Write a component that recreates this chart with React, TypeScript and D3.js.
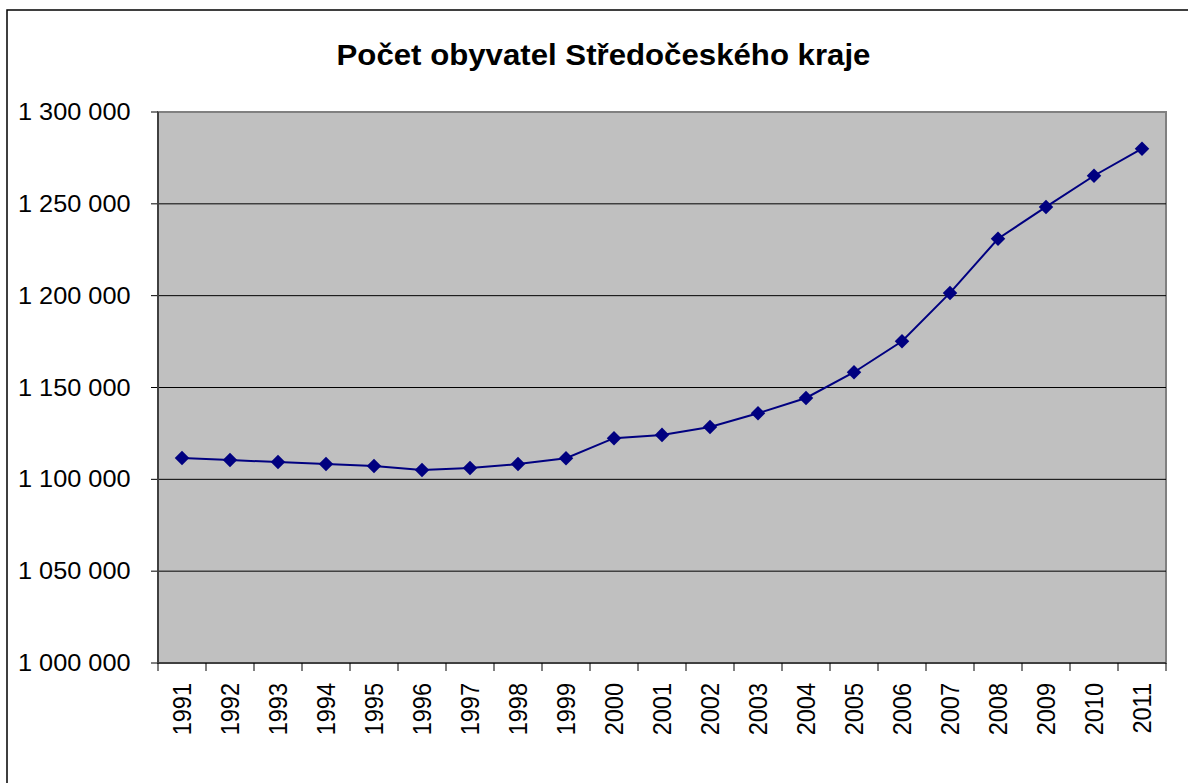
import React from "react";
import * as d3 from "d3";

const years = ["1991","1992","1993","1994","1995","1996","1997","1998","1999","2000","2001","2002","2003","2004","2005","2006","2007","2008","2009","2010","2011"];
const population = [1111600,1110500,1109400,1108300,1107300,1105100,1106200,1108300,1111500,1122400,1124200,1128500,1136000,1144300,1158300,1175200,1201500,1231000,1248300,1265300,1280000];
const yTicks = [1000000,1050000,1100000,1150000,1200000,1250000,1300000];
const title = "Počet obyvatel Středočeského kraje";

const W = 1188, H = 783;
const plot = { left: 158, right: 1166, top: 112, bottom: 663 };
const font = "'Liberation Sans', Arial, sans-serif";

export default function App() {
  const x = d3.scaleBand().domain(years).range([plot.left, plot.right]).padding(0);
  const y = d3.scaleLinear().domain([1000000, 1300000]).range([plot.bottom, plot.top]);
  const line = d3.line<number>().x((_, i) => x(years[i])! + x.bandwidth() / 2).y(d => y(d));
  const fmt = (v: number) => d3.format(",")(v).replace(/,/g, " ");
  const diamond = d3.symbol().type(d3.symbolDiamond2).size(135)()!;
  const boundaries = years.map((yr) => x(yr)!).concat([plot.right]);

  return (
    <svg width={W} height={H} style={{ position: "absolute", left: 0, top: 0 }} fontFamily={font}>
      <rect x={0} y={0} width={W} height={H} fill="#fff" />
      <rect x={7} y={10} width={W + 10} height={H + 10} fill="none" stroke="#000" strokeWidth={1.5} />
      <text transform={`translate(603.5,64.5) scale(1.04,1)`} textAnchor="middle" fontSize={30} fontWeight="bold" fill="#000">{title}</text>
      <rect x={plot.left} y={plot.top} width={plot.right - plot.left} height={plot.bottom - plot.top} fill="#C0C0C0" stroke="#808080" strokeWidth={2} />
      {yTicks.map(t => (
        <g key={t}>
          {t !== 1000000 && t !== 1300000 && (
            <line x1={plot.left} x2={plot.right} y1={y(t)} y2={y(t)} stroke="#000" strokeWidth={1} />
          )}
          <line x1={plot.left - 7} x2={plot.left} y1={y(t)} y2={y(t)} stroke="#000" strokeWidth={1} />
          <text transform={`translate(130.5,${y(t) + 8}) scale(1.1,1)`} textAnchor="end" fontSize={23} fill="#000">{fmt(t)}</text>
        </g>
      ))}
      <line x1={plot.left} x2={plot.left} y1={plot.top} y2={plot.bottom} stroke="#404040" strokeWidth={2} />
      <line x1={plot.left} x2={plot.right} y1={plot.bottom} y2={plot.bottom} stroke="#404040" strokeWidth={2} />
      {boundaries.map((bx, i) => (
        <line key={i} x1={bx} x2={bx} y1={plot.bottom} y2={plot.bottom + 8} stroke="#000" strokeWidth={1} />
      ))}
      {years.map(yr => {
        const cx = x(yr)! + x.bandwidth() / 2;
        return (
          <text key={yr} transform={`translate(${cx + 8.5},683) rotate(-90) scale(1,1.08)`} textAnchor="end" fontSize={23.5} fill="#000">{yr}</text>
        );
      })}
      <path d={line(population)!} fill="none" stroke="#000080" strokeWidth={2} />
      {population.map((v, i) => (
        <path key={i} d={diamond} transform={`translate(${x(years[i])! + x.bandwidth() / 2},${y(v)})`} fill="#000080" />
      ))}
    </svg>
  );
}
